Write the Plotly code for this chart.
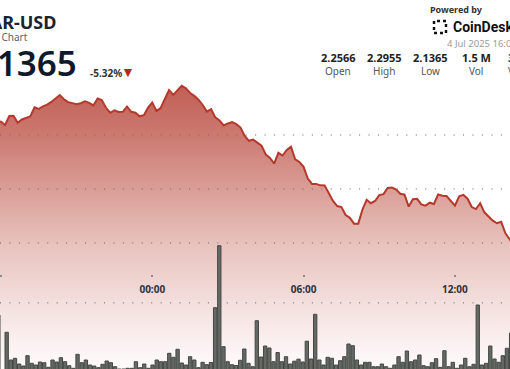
import pandas as pd
import plotly.graph_objects as go

W, H = 510, 369

# ---------------- data ----------------
price_times = pd.date_range("2025-07-03 17:50", periods=124, freq="10min")
prices = [
    2.2615, 2.2625, 2.2593, 2.2676, 2.2679, 2.2613, 2.2644, 2.2659, 2.2673, 2.2757,
    2.2741, 2.2765, 2.2781, 2.2806, 2.2838, 2.2870, 2.2831, 2.2804, 2.2795, 2.2785,
    2.2794, 2.2812, 2.2798, 2.2774, 2.2838, 2.2824, 2.2752, 2.2706, 2.2729, 2.2713,
    2.2715, 2.2764, 2.2715, 2.2706, 2.2673, 2.2684, 2.2753, 2.2800, 2.2723, 2.2750,
    2.2834, 2.2917, 2.2872, 2.2911, 2.2955, 2.2933, 2.2889, 2.2862, 2.2827, 2.2778,
    2.2717, 2.2739, 2.2663, 2.2634, 2.2588, 2.2607, 2.2620, 2.2600, 2.2569, 2.2491,
    2.2446, 2.2457, 2.2428, 2.2401, 2.2319, 2.2288, 2.2236, 2.2335, 2.2310, 2.2361,
    2.2392, 2.2275, 2.2250, 2.2205, 2.2096, 2.2047, 2.2047, 2.2034, 2.2032, 2.1962,
    2.1889, 2.1842, 2.1833, 2.1759, 2.1733, 2.1679, 2.1679, 2.1809, 2.1900, 2.1868,
    2.1889, 2.1943, 2.1952, 2.2009, 2.2014, 2.1995, 2.1956, 2.1947, 2.1837, 2.1906,
    2.1909, 2.1857, 2.1846, 2.1873, 2.1861, 2.1949, 2.1938, 2.1935, 2.1889, 2.1846,
    2.1932, 2.1946, 2.1910, 2.1833, 2.1814, 2.1868, 2.1784, 2.1747, 2.1707, 2.1683,
    2.1696, 2.1589, 2.1536, 2.1470,
]

# volume bars (thousand NEAR), bar index -1 .. 122
vol_index = list(range(-1, 123))
volumes = [
    56, 0, 38.7, 11, 12.7, 7, 5, 15.3, 7.7, 6, 9, 8.3, 3.7, 11, 9, 13.3, 9.3, 5.3, 2.7, 16.7,
    8.3, 11, 6, 5, 3.3, 6.7, 10, 8.3, 4.3, 2, 2, 2.7, 2.7, 9.3, 3.3, 7, 2.7, 6, 11, 9.3,
    9.3, 17.7, 13.7, 21.7, 8, 6, 14.3, 11, 3.3, 8.7, 6.3, 8.5, 63.3, 125.3, 24.3, 9.3, 6.3, 5.5, 10.7, 22,
    7.7, 4.3, 50.3, 14, 25, 23, 9.3, 18.5, 9.3, 14.3, 7, 9.8, 11.8, 9, 29.8, 12, 56.7, 11, 6, 13.7,
    12.7, 6, 10.3, 14.3, 27, 25.3, 11, 6, 8.7, 8.7, 4.3, 4.3, 7, 4.3, 2.7, 6, 14.3, 8.7, 20, 9.3,
    11, 16, 5.3, 4.3, 8.3, 12.3, 3.7, 20.3, 4.3, 8.7, 2.7, 6, 12.7, 4.3, 6.7, 66, 6, 7.7, 25, 12,
    8.7, 15.3, 22.7, 38,
]

grid_levels = [2.25, 2.20, 2.15, 2.0947]
tick_vals = ["2025-07-03 18:00", "2025-07-04 00:00", "2025-07-04 06:00", "2025-07-04 12:00"]
tick_text = ["18:00", "00:00", "06:00", "12:00"]

symbol = "NEAR-USD"
subtitle = "24 Hour Chart"
last_price = "2.1365"
change = "-5.32%"
stamp = "4 Jul 2025 16:07"
stat_values = ["2.2566", "2.2955", "2.1365", "1.5 M", "3.3 M"]
stat_labels = ["Open", "High", "Low", "Vol", "Vol ($)"]

# ---------------- figure ----------------
Y_RANGE = [2.03332, 2.37501]
FONT = "Noto Sans"

fig = go.Figure()

fig.add_trace(go.Scatter(
    x=price_times, y=prices, mode="lines",
    line=dict(color="#b5392b", width=2),
    fill="tozeroy",
    fillgradient=dict(
        type="vertical", start=Y_RANGE[0], stop=2.2965,
        colorscale=[
            [0.0, "rgb(254,251,251)"],
            [0.10, "rgb(250,240,239)"],
            [0.24, "rgb(243,222,220)"],
            [0.44, "rgb(232,194,189)"],
            [0.63, "rgb(218,158,151)"],
            [0.82, "rgb(204,122,113)"],
            [1.0, "rgb(193,94,84)"],
        ],
    ),
    hoverinfo="skip", showlegend=False,
))

fig.add_trace(go.Bar(
    x=vol_index, y=volumes, xaxis="x2", yaxis="y2",
    width=0.8,
    marker=dict(color="#656963", line=dict(color="#444843", width=1)),
    hoverinfo="skip", showlegend=False,
))

shapes = []
for g in grid_levels:
    shapes.append(dict(
        type="line", xref="paper", x0=0, x1=1, yref="y", y0=g, y1=g,
        line=dict(color="rgba(110,110,110,0.75)", width=1.6, dash="1px,8.45px"),
        layer="above",
    ))


def px(x, y):
    return x / W, 1 - y / H


annotations = []


def text(s, x, y, size, color, anchor="center", weight=400, family=FONT):
    xp, yp = px(x, y)
    annotations.append(dict(
        text=s, x=xp, y=yp, xref="paper", yref="paper", xanchor=anchor, yanchor="middle",
        showarrow=False, font=dict(family=family, size=size, color=color, weight=weight),
    ))


text(symbol, 57.5, 22, 18, "#1a2332", "right", 700)
text(subtitle, 29.5, 36.5, 10, "#5a5f66", "right")
text(last_price, 79, 62.5, 35, "#0e1a2b", "right", 600)
text(change, 87.5, 72.5, 10, "#333333", "left", 700)
text("▼", 128, 72, 14, "#b22a1f")
text("Powered by", 456.5, 9.5, 9, "#333333", "center", 700)
text("CoinDesk", 451, 27, 14, "#111111", "left", 700, "Roboto")
text(stamp, 444.5, 44, 9.5, "#9a9a9a", "left")
for i, (v, l) in enumerate(zip(stat_values, stat_labels)):
    cx = 338 + 46 * i
    text(v, cx, 58, 11, "#222222", "center", 700)
    text(l, cx, 71, 10, "#555555", "center")

# CoinDesk logo mark
x0, y0 = px(434, 33)
x1, y1 = px(446, 21)
shapes.append(dict(type="rect", xref="paper", yref="paper", x0=x0, y0=y0, x1=x1, y1=y1,
                   line=dict(color="#111111", width=2.5, dash="dot"), layer="above"))

fig.update_layout(
    width=W, height=H,
    margin=dict(l=0, r=0, t=0, b=0),
    paper_bgcolor="white", plot_bgcolor="white",
    showlegend=False,
    xaxis=dict(
        type="date", range=["2025-07-03 17:57:52", "2025-07-04 14:10:57"],
        tickvals=tick_vals, ticktext=tick_text,
        anchor="free", position=1 - 274 / H,
        showgrid=False, zeroline=False, showline=False,
        ticks="outside", ticklen=2, tickwidth=1.5, tickcolor="#8a8a8a",
        tickfont=dict(family=FONT, size=10, color="#2b3240", weight=700),
        ticklabelstandoff=4, automargin=False, fixedrange=True,
    ),
    yaxis=dict(range=Y_RANGE, visible=False, showgrid=False, zeroline=False, fixedrange=True),
    xaxis2=dict(range=[-0.6, 121.73], overlaying="x", visible=False, fixedrange=True),
    yaxis2=dict(range=[2, 371], overlaying="y", visible=False, fixedrange=True),
    shapes=shapes,
    annotations=annotations,
)

fig.write_html(
    "out.html",
    config={"displayModeBar": False},
    post_script="document.body.style.margin='0';document.body.style.overflow='hidden';",
)
